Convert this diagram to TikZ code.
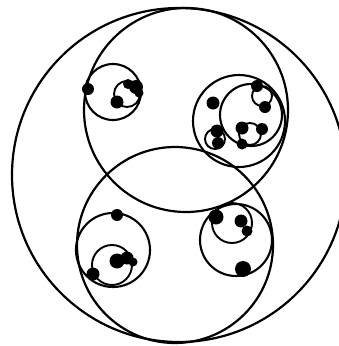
\documentclass[tikz,border=0pt]{standalone}
\usetikzlibrary{positioning}

\begin{document}
\begin{tikzpicture}[
  x=1pt,y=-1pt,
  bigring/.style={draw,line width=2.2pt},
  ring/.style={draw,line width=2.1pt},
  tinyring/.style={draw,line width=1.9pt},
  blob/.style={fill=black}
]
  \useasboundingbox (0,0) rectangle (339,346);

  % outer circle and the two large ones
  \draw[bigring] (179,175) circle (167);
  \draw[bigring] (186,110) circle (102);
  \draw[bigring] (175,245) circle (98);

  % upper left group
  \draw[ring] (113,92) circle (28);
  \draw[tinyring] (127,94) circle (13);
  \fill[blob] (88,89) circle (6);
  \fill[blob] (117,102) circle (6.5);
  \fill[blob] (136,87) circle (7);
  \fill[blob] (128,84) circle (5);
  \fill[blob] (139,93) circle (4.5);

  % upper right group
  \draw[ring] (239,121) circle (46);
  \draw[ring] (251,115) circle (31);
  \fill[blob] (213,103) circle (6.5);
  \draw[tinyring] (262,96) circle (10);
  \fill[blob] (257,86) circle (6);
  \fill[blob] (265,107) circle (6);
  \draw[tinyring] (215,139) circle (10);
  \fill[blob] (217,131) circle (6.5);
  \fill[blob] (218,143) circle (6);
  \draw[tinyring] (250,134) circle (11);
  \fill[blob] (242,128) circle (6.5);
  \fill[blob] (262,129) circle (6);
  \fill[blob] (242,144) circle (5.5);

  % lower left group
  \draw[ring] (113,250) circle (37);
  \draw[tinyring] (112,265) circle (20);
  \fill[blob] (117,215) circle (6);
  \fill[blob] (93,274) circle (6.5);
  \fill[blob] (117,261) circle (7.5);
  \fill[blob] (127,258) circle (6.5);
  \fill[blob] (133,262) circle (4.5);

  % lower right group
  \draw[ring] (236,240) circle (36);
  \draw[tinyring] (232,223) circle (20);
  \fill[blob] (216,217) circle (7.5);
  \fill[blob] (241,221) circle (6.5);
  \fill[blob] (247,231) circle (5.5);
  \fill[blob] (243,269) circle (8);
\end{tikzpicture}
\end{document}
